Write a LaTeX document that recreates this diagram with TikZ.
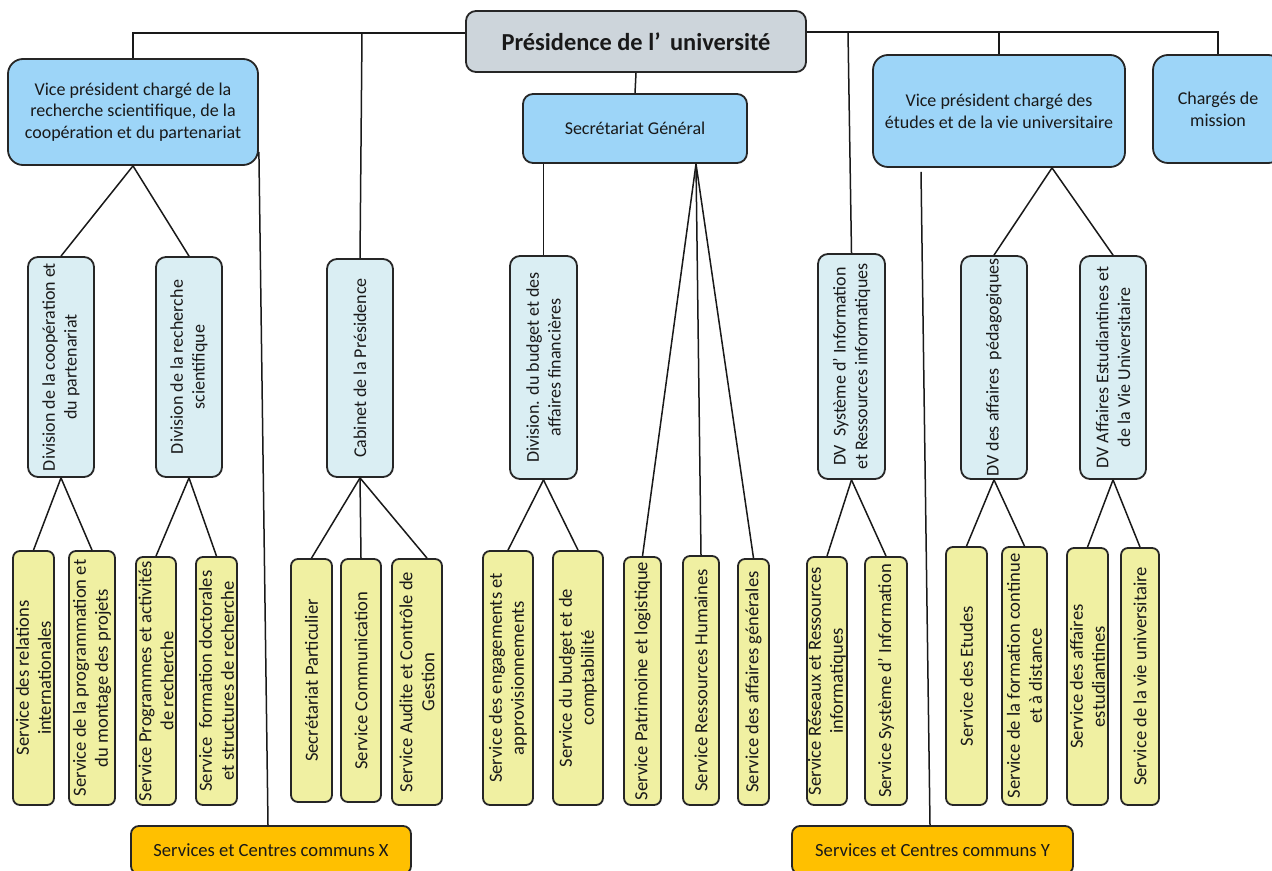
\documentclass[tikz,border=0pt]{standalone}
\usepackage{fontspec}
\setmainfont{Carlito}
\definecolor{vpblue}{HTML}{9DD5F8}
\definecolor{presgray}{HTML}{CDD5DB}
\definecolor{divblue}{HTML}{DAEEF3}
\definecolor{servyellow}{HTML}{F0F0A2}
\definecolor{orangec}{HTML}{FFC000}
\newcommand\myftitle{\fontsize{12.2}{14.5}\selectfont\bfseries}
\newcommand\myfvp{\fontsize{9}{10.85}\selectfont}
\newcommand\myfserv{\fontsize{9.3}{11}\selectfont}
\tikzset{
  box/.style={draw=black!85, line width=0.9pt, rounded corners=5pt, align=center, inner sep=0.5pt, text=black!90, font=\myfvp},
  vpbox/.style={box, fill=vpblue, rounded corners=7.5pt},
  divbox/.style={box, fill=divblue, rotate=90},
  servbox/.style={box, fill=servyellow, rotate=90, rounded corners=3.5pt, font=\myfserv},
  commbox/.style={box, fill=orangec, rounded corners=4pt, font=\myfserv},
  link/.style={line width=0.75pt, draw=black!90}
}
\begin{document}
\begin{tikzpicture}[x=0.5pt,y=-0.5pt]
\useasboundingbox (0,0) rectangle (1272,871);
% top level
\node[box, fill=presgray, minimum width=170pt, minimum height=30.5pt, font=\myftitle] (pres) at (636,41.5) {Présidence de l’\hspace{2pt} université};
\node[vpbox, minimum width=125pt, minimum height=53pt] (vp1) at (133,112) {Vice président chargé de la\\recherche scientifique, de la\\coopération et du partenariat};
\node[vpbox, rounded corners=5pt, minimum width=112pt, minimum height=34.5pt] (sg) at (635,128.5) {Secrétariat Général};
\node[vpbox, minimum width=126pt, minimum height=56pt] (vp2) at (999,111) {Vice président chargé des\\études et de la vie universitaire};
\node[vpbox, minimum width=65pt, minimum height=54pt] (chm) at (1218,109) {Chargés de\\mission};
% divisions
\node[divbox, minimum width=110pt, minimum height=33pt] (dcoop) at (61,367) {Division de la coopération et\\du partenariat};
\node[divbox, minimum width=110pt, minimum height=33pt] (drech) at (189,367) {Division de la recherche\\scientifique};
\node[divbox, minimum width=109pt, minimum height=33pt] (cab) at (360,368) {Cabinet de la Présidence};
\node[divbox, minimum width=111.5pt, minimum height=33.5pt] (dbud) at (543.5,367.5) {Division. du budget et des\\affaires financières};
\node[divbox, minimum width=112.5pt, minimum height=33.5pt] (dsys) at (851.5,366.5) {DV\ \ Système d’ Information\\et Ressources informatiques};
\node[divbox, minimum width=111.5pt, minimum height=33pt] (dped) at (994,367.5) {DV des affaires\ \ pédagogiques};
\node[divbox, minimum width=111.5pt, minimum height=33pt] (dae) at (1113,367.5) {DV Affaires Estudiantines et\\de la Vie Universitaire};
% services
\node[servbox, minimum width=127pt, minimum height=20.5pt] (s1) at (33.5,678) {Service des relations\\internationales};
\node[servbox, minimum width=127pt, minimum height=23pt] (s2) at (92,678) {Service de la programmation et\\du montage des projets};
\node[servbox, minimum width=124pt, minimum height=20pt] (s3) at (156,681) {Service Programmes et activités\\de recherche};
\node[servbox, minimum width=124pt, minimum height=20.5pt] (s4) at (216.5,681) {Service\ \ formation doctorales\\et structures de recherche};
\node[servbox, minimum width=121.5pt, minimum height=20.5pt] (s5) at (311.5,680.5) {Secrétariat Particulier};
\node[servbox, minimum width=121.5pt, minimum height=20pt] (s6) at (361,680.5) {Service Communication};
\node[servbox, minimum width=123pt, minimum height=25pt] (s7) at (417,682) {Service Audite et Contrôle de\\Gestion};
\node[servbox, minimum width=127pt, minimum height=25pt] (s8) at (508,678) {Service des engagements et\\approvisionnements};
\node[servbox, minimum width=127pt, minimum height=25pt] (s9) at (578,678) {Service du budget et de\\comptabilité};
\node[servbox, minimum width=124pt, minimum height=18.5pt] (s10) at (642.5,681) {Service Patrimoine et logistique};
\node[servbox, minimum width=124.5pt, minimum height=18pt] (s11) at (701,680.5) {Service Ressources Humaines};
\node[servbox, minimum width=123pt, minimum height=15.5pt] (s12) at (753.5,682) {Service des affaires générales};
\node[servbox, minimum width=124pt, minimum height=20pt] (s13) at (827,681) {Service Réseaux et Ressources\\informatiques};
\node[servbox, minimum width=124pt, minimum height=21pt] (s14) at (886,681) {Service Système d’ Information};
\node[servbox, minimum width=129pt, minimum height=20.5pt] (s15) at (966.5,676) {Service des Etudes};
\node[servbox, minimum width=129pt, minimum height=22.5pt] (s16) at (1024.5,676) {Service de la formation continue\\et à distance};
\node[servbox, minimum width=128.5pt, minimum height=20.5pt] (s17) at (1087.5,676.5) {Service des affaires\\estudiantines};
\node[servbox, minimum width=128.5pt, minimum height=19pt] (s18) at (1140,676.5) {Service de la vie universitaire};
% common services
\node[commbox, minimum width=140pt, minimum height=24pt] (sx) at (271,850) {Services et Centres communs X};
\node[commbox, minimum width=140.5pt, minimum height=24pt] (sy) at (932.5,850) {Services et Centres communs Y};
% connectors from presidency
\coordinate (jcab) at (362,33);
\coordinate (jsys) at (848,32.5);
\draw[link] ([yshift=4.25pt]pres.west) -| (vp1.north);
\draw[link] ([yshift=4.75pt]pres.east) -| (chm.north);
\draw[link] (jcab) -- (cab.east);
\draw[link] (jsys) -- (dsys.east);
\draw[link] (vp2.north |- jsys) -- (vp2.north);
\draw[link] (pres.south) -- (sg.north);
% VP1
\draw[link] (vp1.south) -- (dcoop.east);
\draw[link] (vp1.south) -- (drech.east);
\draw[link] ([yshift=-20pt]vp1.east) -- ([xshift=-1.5pt]sx.north);
% SG
\draw[link] (dbud.east |- sg.south) -- (dbud.east);
\coordinate (sgfan) at ([xshift=30.5pt]sg.south);
\draw[link] (sgfan) -- (s10.east);
\draw[link] (sgfan) -- (s11.east);
\draw[link] (sgfan) -- (s12.east);
% VP2
\coordinate (vpfan) at ([xshift=26.5pt]vp2.south);
\draw[link] (vpfan) -- (dped.east);
\draw[link] (vpfan) -- (dae.east);
\draw[link] ([xshift=-39pt,yshift=-2pt]vp2.south) -- ([xshift=-1.25pt]sy.north);
% divisions to services
\draw[link] (dcoop.west) -- (s1.east);
\draw[link] (dcoop.west) -- (s2.east);
\draw[link] (drech.west) -- (s3.east);
\draw[link] (drech.west) -- (s4.east);
\draw[link] (cab.west) -- (s5.east);
\draw[link] (cab.west) -- (s6.east);
\draw[link] (cab.west) -- ([xshift=5pt]s7.east);
\draw[link] (dbud.west) -- (s8.east);
\draw[link] (dbud.west) -- (s9.east);
\draw[link] (dsys.west) -- (s13.east);
\draw[link] (dsys.west) -- (s14.east);
\draw[link] (dped.west) -- (s15.east);
\draw[link] (dped.west) -- (s16.east);
\draw[link] (dae.west) -- (s17.east);
\draw[link] (dae.west) -- (s18.east);
\end{tikzpicture}
\end{document}
